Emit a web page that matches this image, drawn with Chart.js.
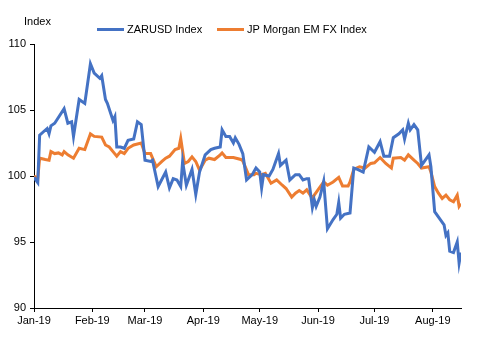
<!DOCTYPE html>
<html>
<head>
<meta charset="utf-8">
<script src="https://cdn.jsdelivr.net/npm/chart.js@4"></script>
<style>
  html, body { margin: 0; padding: 0; background: #fff; }
  #wrap { width: 480px; height: 337px; }
</style>
</head>
<body>
<div id="wrap"><canvas id="myChart" width="480" height="337"></canvas></div>
<script>
// days since 1 Jan 2019
var monthStarts = [0, 31, 59, 90, 120, 151, 181, 212];
var monthLabels = ['Jan-19', 'Feb-19', 'Mar-19', 'Apr-19', 'May-19', 'Jun-19', 'Jul-19', 'Aug-19'];
var yTicks = [90, 95, 100, 105, 110];

var zarDays = [0, 2, 3, 7, 8, 9, 11, 16, 18, 20, 21, 24, 27, 30, 32, 35, 36, 38, 39, 42, 43, 44, 46, 48, 50, 53, 55, 57, 59, 62, 63, 66, 70, 72, 74, 76, 78, 79, 81, 84, 86, 88, 91, 94, 96, 99, 100, 102, 104, 106, 107, 109, 111, 113, 116, 118, 120, 121, 122, 125, 127, 130, 131, 134, 136, 139, 141, 143, 145, 146, 148, 149, 150, 152, 154, 156, 159, 161, 162, 163, 165, 168, 170, 172, 175, 178, 181, 184, 186, 189, 191, 194, 196, 197, 199, 200, 202, 204, 206, 208, 210, 211, 213, 216, 218, 219, 220, 221, 223, 225, 226, 227];
var zarVals = [99.9, 99.5, 103.1, 103.6, 103.2, 103.8, 104.0, 105.1, 104.0, 104.1, 103.0, 105.8, 105.5, 108.5, 107.8, 107.4, 107.6, 105.8, 105.5, 104.2, 104.5, 102.2, 102.2, 102.1, 102.7, 102.8, 104.1, 103.9, 101.2, 101.1, 101.2, 99.2, 100.3, 99.1, 99.8, 99.7, 99.2, 101.1, 99.3, 100.5, 98.6, 100.3, 101.6, 102.0, 102.1, 102.2, 103.5, 103.0, 103.0, 102.5, 102.9, 102.4, 101.7, 99.7, 100.1, 100.6, 100.3, 99.1, 100.1, 100.0, 100.5, 101.7, 100.8, 101.2, 99.7, 100.1, 100.1, 99.7, 99.8, 99.8, 97.6, 98.2, 97.7, 98.4, 99.6, 96.0, 96.7, 97.1, 98.0, 96.8, 97.1, 97.2, 100.6, 100.5, 100.3, 102.2, 101.8, 102.6, 101.5, 101.5, 102.9, 103.2, 103.5, 102.8, 104.0, 103.5, 103.9, 103.5, 100.8, 101.2, 101.6, 100.7, 97.3, 96.7, 96.3, 95.5, 95.7, 94.3, 94.2, 95.0, 93.4, 94.2];

var emDays = [0, 2, 3, 6, 8, 9, 11, 13, 15, 16, 18, 21, 24, 27, 30, 32, 36, 38, 40, 42, 44, 46, 48, 50, 53, 57, 59, 62, 65, 68, 70, 72, 75, 77, 78, 80, 82, 84, 86, 88, 91, 93, 96, 99, 100, 102, 106, 110, 111, 114, 117, 118, 121, 123, 126, 129, 132, 134, 137, 139, 141, 143, 145, 148, 149, 152, 154, 156, 159, 162, 164, 167, 168, 170, 173, 176, 179, 181, 184, 187, 190, 191, 195, 197, 199, 202, 204, 206, 210, 211, 213, 215, 217, 219, 221, 223, 225, 226, 227];
var emVals = [100.0, 99.8, 101.35, 101.25, 101.2, 101.85, 101.7, 101.75, 101.6, 101.85, 101.6, 101.35, 102.1, 102.0, 103.2, 103.0, 102.95, 102.35, 102.2, 101.85, 101.5, 101.85, 101.7, 102.1, 102.35, 102.5, 101.7, 101.7, 100.7, 101.1, 101.35, 101.5, 102.0, 102.1, 102.85, 100.95, 101.1, 101.45, 101.1, 100.45, 101.2, 101.35, 101.25, 101.6, 101.75, 101.4, 101.4, 101.25, 101.15, 100.1, 100.1, 100.2, 100.1, 100.2, 99.45, 99.7, 99.3, 99.05, 98.4, 98.7, 98.9, 98.7, 98.95, 98.3, 98.55, 99.15, 99.55, 99.3, 99.55, 99.9, 99.25, 99.25, 99.55, 100.5, 100.7, 100.6, 100.95, 101.0, 101.4, 100.95, 100.6, 101.35, 101.4, 101.2, 101.6, 101.2, 100.95, 100.6, 100.7, 100.3, 99.2, 98.7, 98.3, 98.55, 98.2, 98.05, 98.55, 97.7, 97.9];

function toPoints(days, vals) {
    var pts = [];
    for (var i = 0; i < days.length; i++) pts.push({x: days[i], y: vals[i]});
    return pts;
}

var FONT = 'Liberation Sans, Arial, sans-serif';

// draws the "Index" axis title and the legend above the plot
var extras = {
    id: 'extras',
    afterDraw: function(chart) {
        var c = chart.ctx;
        c.save();
        c.font = '11px ' + FONT;
        c.fillStyle = '#000';
        c.textBaseline = 'middle';
        c.textAlign = 'left';
        c.fillText('Index', 24, 22);
        var items = [{x: 97, ds: chart.data.datasets[0]}, {x: 217, ds: chart.data.datasets[1]}];
        items.forEach(function(it) {
            c.strokeStyle = it.ds.borderColor;
            c.lineWidth = 3;
            c.beginPath();
            c.moveTo(it.x, 29.5);
            c.lineTo(it.x + 27, 29.5);
            c.stroke();
            c.fillText(it.ds.label, it.x + 30, 30);
        });
        c.restore();
    }
};

var ctx = document.getElementById('myChart').getContext('2d');
var myChart = new Chart(ctx, {
    type: 'line',
    data: {
        datasets: [{
            label: 'ZARUSD Index',
            data: toPoints(zarDays, zarVals),
            borderColor: '#4472C4',
            backgroundColor: '#4472C4',
            borderWidth: 3,
            pointRadius: 0,
            tension: 0,
            fill: false
        }, {
            label: 'JP Morgan EM FX Index',
            data: toPoints(emDays, emVals),
            borderColor: '#ED7D31',
            backgroundColor: '#ED7D31',
            borderWidth: 3,
            pointRadius: 0,
            tension: 0,
            fill: false
        }]
    },
    options: {
        responsive: false,
        animation: false,
        layout: { padding: { top: 44, right: 19, bottom: 0, left: 0 } },
        plugins: {
            legend: { display: false },
            tooltip: { enabled: false }
        },
        scales: {
            x: {
                type: 'linear',
                min: 0,
                max: 227,
                afterFit: function(scale) { scale.height = 29; },
                afterBuildTicks: function(scale) {
                    scale.ticks = monthStarts.map(function(v) { return {value: v}; });
                },
                ticks: {
                    autoSkip: false,
                    maxRotation: 0,
                    padding: 2,
                    color: '#000',
                    font: { family: FONT, size: 11 },
                    callback: function(value) {
                        var i = monthStarts.indexOf(value);
                        return i >= 0 ? monthLabels[i] : '';
                    }
                },
                grid: { drawOnChartArea: false, tickLength: 4, color: '#000', lineWidth: 1 },
                border: { display: true, color: '#000', width: 1 }
            },
            y: {
                min: 90,
                max: 110,
                afterFit: function(scale) { scale.width = 34; },
                afterBuildTicks: function(scale) {
                    scale.ticks = yTicks.map(function(v) { return {value: v}; });
                },
                ticks: {
                    padding: 4,
                    color: '#000',
                    font: { family: FONT, size: 11 }
                },
                grid: { drawOnChartArea: false, tickLength: 4, color: '#000', lineWidth: 1 },
                border: { display: true, color: '#000', width: 1 }
            }
        }
    },
    plugins: [extras]
});
</script>
</body>
</html>
